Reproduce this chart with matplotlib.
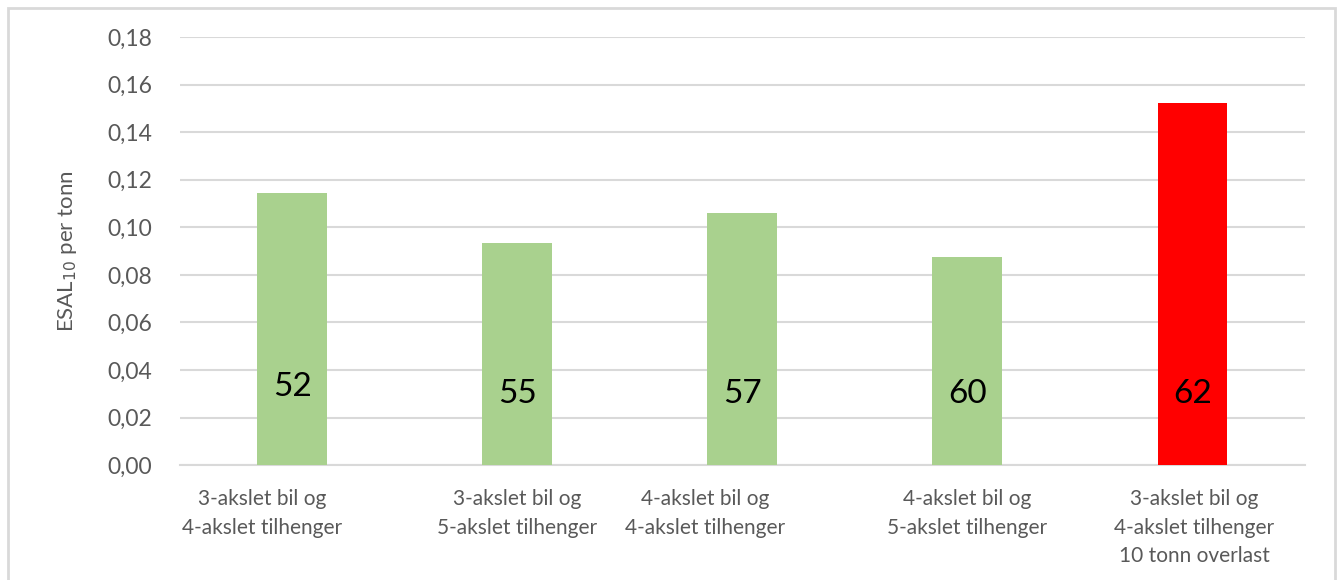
import matplotlib.pyplot as plt
import matplotlib.transforms as mtransforms
from matplotlib.patches import Rectangle
from matplotlib.ticker import FuncFormatter

plt.rcParams['font.family'] = ['Lato', 'DejaVu Sans']

categories = [
    '3-akslet bil og\n4-akslet tilhenger',
    '3-akslet bil og\n5-akslet tilhenger',
    '4-akslet bil og\n4-akslet tilhenger',
    '4-akslet bil og\n5-akslet tilhenger',
    '3-akslet bil og\n4-akslet tilhenger\n10 tonn overlast',
]
esal_per_tonn = [0.1145, 0.0935, 0.1062, 0.0877, 0.1523]
total_weight = ['52', '55', '57', '60', '62']
label_y = [0.033, 0.030, 0.030, 0.030, 0.030]
bar_colors = ['#A9D18E', '#A9D18E', '#A9D18E', '#A9D18E', '#FF0000']
label_shift_px = [-30, 0, -37, 0, 2]

GREY = '#595959'
GRID = '#D9D9D9'

fig = plt.figure(figsize=(13.43, 5.8), dpi=100)
ax = fig.add_axes([0.134, 0.198, 0.8377, 0.738])

x = range(len(categories))
ax.bar(x, esal_per_tonn, width=0.311, color=bar_colors, zorder=3)
for i, (txt, yv) in enumerate(zip(total_weight, label_y)):
    ax.text(i, yv, txt, ha='center', va='center', fontsize=24, color='black', zorder=4)

ax.set_xlim(-0.5, len(categories) - 0.5)
ax.set_ylim(0, 0.18)
ax.set_yticks([i * 0.02 for i in range(10)])
ax.yaxis.set_major_formatter(FuncFormatter(lambda v, p: f'{v:.2f}'.replace('.', ',')))
ax.tick_params(axis='y', length=0, pad=20, labelsize=16.5, labelcolor=GREY)
ax.set_xticks(list(x))
ax.set_xticklabels(categories, linespacing=1.55)
ax.tick_params(axis='x', length=0, pad=17, labelsize=15, labelcolor=GREY)
for lbl, dx in zip(ax.get_xticklabels(), label_shift_px):
    lbl.set_transform(lbl.get_transform() + mtransforms.ScaledTranslation(dx / 100, 0, fig.dpi_scale_trans))

ax.grid(axis='y', color=GRID, linewidth=1.5, zorder=0)
for side in ['left', 'right', 'top']:
    ax.spines[side].set_visible(False)
ax.spines['bottom'].set_color(GRID)
ax.spines['bottom'].set_linewidth(1.5)

ax.set_ylabel('ESAL$_{10}$ per tonn', fontsize=16, color=GREY, labelpad=20)

# outer chart frame
fig.patches.append(Rectangle((8 / 1343, -0.1), 1327 / 1343, 1.1 - 8 / 580,
                             transform=fig.transFigure, fill=False,
                             edgecolor=GRID, linewidth=2))

fig.savefig('out.png', dpi=100)
